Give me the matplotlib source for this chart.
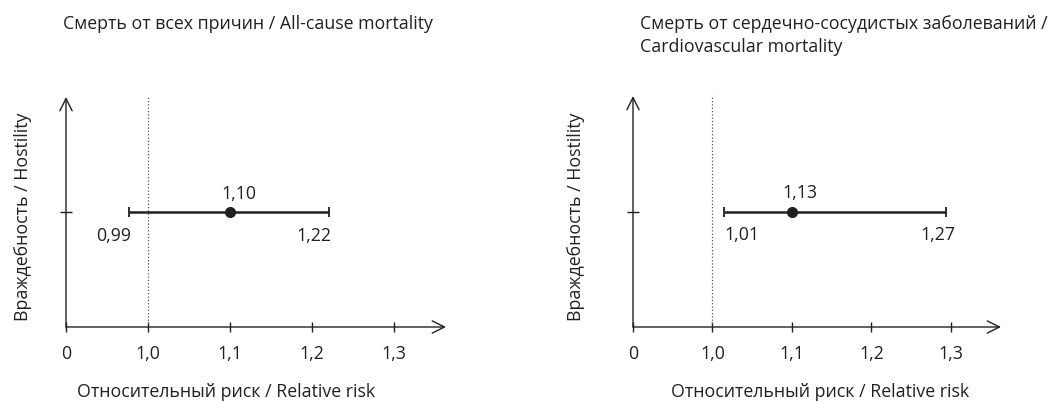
import matplotlib
matplotlib.use("Agg")
import matplotlib.pyplot as plt

plt.rcParams['font.family'] = ['Open Sans', 'DejaVu Sans']

# Données
titles = ["Смерть от всех причин / All-cause mortality",
          "Смерть от сердечно-сосудистых заболеваний /\nCardiovascular mortality"]
est_labels = ["1,10", "1,13"]
lo_labels = ["0,99", "1,01"]
hi_labels = ["1,22", "1,27"]
# positions telles que dessinées sur la figure d'origine
est_pos = [1.10, 1.10]
lo_pos = [0.977, 1.014]
hi_pos = [1.221, 1.294]
tick_vals = [0.9, 1.0, 1.1, 1.2, 1.3]
tick_labels = ["0", "1,0", "1,1", "1,2", "1,3"]
xlabel = "Относительный риск / Relative risk"
ylabel = "Враждебность / Hostility"

ink = '#231f20'
W, H = 1060, 402
fs = 12.8

fig = plt.figure(figsize=(W / 100, H / 100), dpi=100)

# boîtes des axes en pixels : (x origine, x bout de flèche, y haut)
boxes = [(66, 446, 98), (633, 1001, 97)]
x_axis_y = 328
xmax = 1.363
# décalages des étiquettes en pixels (est, lo, hi)
offs = [((9, 19), (-16, -23), (-16, -23)),
        ((8, 19), (18, -23), (-8, -23))]
title_x = [63, 640]
xlabel_x = [226, 820]
ylabel_x = [23, 576]

for i in range(2):
    x0, x1, ytop = boxes[i]
    ax = fig.add_axes([x0 / W, 1 - x_axis_y / H, (x1 - x0) / W, (x_axis_y - ytop) / H])
    ax.set_xlim(0.9, xmax)
    ax.set_ylim(0, 2)
    for s in ax.spines.values():
        s.set_visible(False)

    # axes avec flèches
    ax.annotate('', xy=(xmax, 0), xytext=(0.9, 0), annotation_clip=False,
                arrowprops=dict(arrowstyle='->', color=ink, lw=1.0,
                                mutation_scale=22, shrinkA=0, shrinkB=0))
    ax.annotate('', xy=(0.9, 2), xytext=(0.9, 0), annotation_clip=False,
                arrowprops=dict(arrowstyle='->', color=ink, lw=1.0,
                                mutation_scale=22, shrinkA=0, shrinkB=0))

    ax.set_xticks(tick_vals, tick_labels)
    ax.set_yticks([1], [''])
    ax.tick_params(axis='x', direction='inout', length=7, width=1, color=ink,
                   labelcolor=ink, labelsize=fs, pad=8.5)
    ax.tick_params(axis='y', direction='inout', length=9, width=1, color=ink)

    # ligne de référence RR = 1
    ax.plot([1.0, 1.0], [0, 2.01], ls=':', lw=0.9, color='#555555', clip_on=False)

    x = est_pos[i]
    ax.errorbar([x], [1], xerr=[[x - lo_pos[i]], [hi_pos[i] - x]], fmt='o',
                color=ink, ms=7, lw=1.8, capsize=3.5, capthick=1.3)

    o_est, o_lo, o_hi = offs[i]
    ax.annotate(est_labels[i], (x, 1), xytext=o_est, textcoords='offset pixels',
                ha='center', va='center', fontsize=fs, color=ink)
    ax.annotate(lo_labels[i], (lo_pos[i], 1), xytext=o_lo, textcoords='offset pixels',
                ha='center', va='center', fontsize=fs, color=ink)
    ax.annotate(hi_labels[i], (hi_pos[i], 1), xytext=o_hi, textcoords='offset pixels',
                ha='center', va='center', fontsize=fs, color=ink)

    fig.text(title_x[i] / W, 1 - 15 / H, titles[i], ha='left', va='top',
             fontsize=fs, color=ink, linespacing=1.36)
    fig.text(xlabel_x[i] / W, 1 - 392 / H, xlabel, ha='center', va='center',
             fontsize=fs, color=ink)
    fig.text(ylabel_x[i] / W, 1 - 217 / H, ylabel, ha='center', va='center',
             rotation=90, fontsize=fs, color=ink)

fig.savefig('out.png', dpi=100)
